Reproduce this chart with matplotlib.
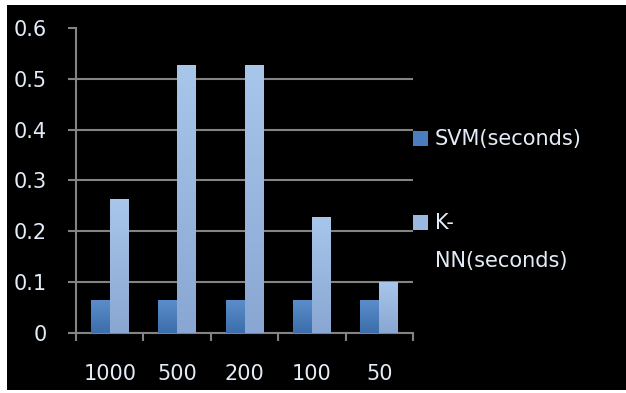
import numpy as np
import matplotlib
matplotlib.use("Agg")
import matplotlib.pyplot as plt
from matplotlib.colors import LinearSegmentedColormap
from matplotlib.patches import Rectangle

categories = ["1000", "500", "200", "100", "50"]
svm_seconds = [0.063, 0.063, 0.063, 0.063, 0.063]
knn_seconds = [0.262, 0.526, 0.526, 0.228, 0.1]
series_names = ["SVM(seconds)", "K-\nNN(seconds)"]

text_color = "#e4ecf8"
line_color = "#838383"
plt.rcParams["font.family"] = "DejaVu Sans"
plt.rcParams["font.size"] = 15

fig = plt.figure(figsize=(6.26, 3.93), dpi=100, facecolor="white")
# black panel behind the chart
fig.patches.append(Rectangle((7 / 626, 3 / 393), 619 / 626, 385 / 393,
                             transform=fig.transFigure, facecolor="black",
                             edgecolor="none", zorder=-5))

ax = fig.add_axes([76 / 626, 60 / 393, 337 / 626, 305 / 393])
ax.set_facecolor("black")

x = np.arange(len(categories))
w = 0.28
svm_bars = ax.bar(x - w / 2, svm_seconds, w, color="#4a7dbb", zorder=2)
knn_bars = ax.bar(x + w / 2, knn_seconds, w, color="#9ab8e0", zorder=2)

# vertical gradient fill on every bar
grads = {
    "svm": LinearSegmentedColormap.from_list("svm", ["#3b6eaa", "#5b8dca"]),
    "knn": LinearSegmentedColormap.from_list("knn", ["#8aa7d3", "#a8c5ea"]),
}
ramp = np.linspace(0, 1, 64).reshape(-1, 1)
for key, bars in (("svm", svm_bars), ("knn", knn_bars)):
    for b in bars:
        x0, h = b.get_x(), b.get_height()
        ax.imshow(ramp, extent=[x0, x0 + b.get_width(), 0, h], origin="lower",
                  cmap=grads[key], aspect="auto", zorder=3)

ax.set_xlim(-0.5, len(categories) - 0.5)
ax.set_ylim(0, 0.6)
ax.set_yticks(np.arange(0, 0.61, 0.1))
ax.set_yticklabels(["0", "0.1", "0.2", "0.3", "0.4", "0.5", "0.6"])
ax.set_xticks(x)
ax.set_xticklabels(categories)
ax.set_xticks(np.arange(-0.5, len(categories)), minor=True)

ax.yaxis.grid(True, color=line_color, linewidth=1.5, zorder=1)
ax.set_axisbelow(True)
ax.get_ygridlines()[-1].set_visible(False)

for side in ("top", "right"):
    ax.spines[side].set_visible(False)
for side in ("left", "bottom"):
    ax.spines[side].set_color(line_color)
    ax.spines[side].set_linewidth(1.5)

ax.tick_params(axis="y", colors=line_color, labelcolor=text_color,
               length=6, width=1.5, pad=15)
ax.tick_params(axis="x", which="major", length=0, labelcolor=text_color, pad=22)
ax.tick_params(axis="x", which="minor", colors=line_color, length=6, width=1.5)

# legend on the right
legend_colors = ["#4a7dbb", "#9ab8e0"]
legend_y = [138.5, 222]
for name, col, yp in zip(series_names, legend_colors, legend_y):
    fy = 1 - yp / 393
    fig.patches.append(Rectangle((413 / 626, fy - 7.5 / 393), 15 / 626, 15 / 393,
                                 transform=fig.transFigure, facecolor=col,
                                 edgecolor="none"))
    fig.text(435 / 626, fy + 9 / 393, name, color=text_color, va="top",
             ha="left", linespacing=2.1)

fig.savefig("out.png", dpi=100, facecolor="white")
